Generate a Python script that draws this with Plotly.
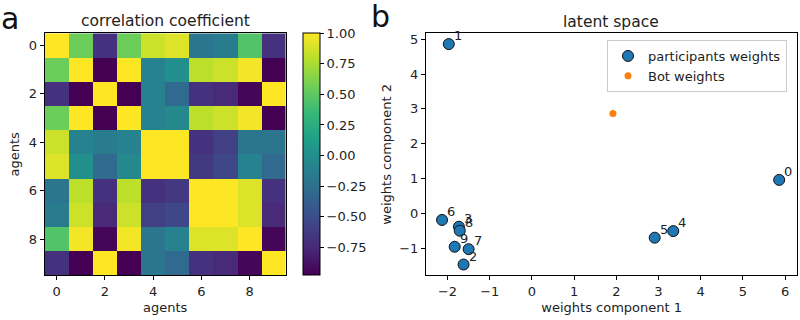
import plotly.graph_objects as go

# ---------- data ----------
agents = list(range(10))
corr = [
    [1.00, 0.55, -0.70, 0.55, 0.85, 0.90, -0.20, -0.15, 0.45, -0.70],
    [0.55, 1.00, -0.98, 1.00, -0.10, 0.00, 0.80, 0.85, 0.97, -0.98],
    [-0.70, -0.98, 1.00, -0.98, -0.10, -0.30, -0.70, -0.75, -0.95, 1.00],
    [0.55, 1.00, -0.98, 1.00, -0.10, -0.05, 0.80, 0.85, 0.97, -0.98],
    [0.85, -0.10, -0.15, -0.10, 1.00, 1.00, -0.70, -0.60, -0.20, -0.20],
    [0.90, 0.00, -0.30, -0.05, 1.00, 1.00, -0.65, -0.55, -0.10, -0.30],
    [-0.20, 0.80, -0.70, 0.80, -0.70, -0.65, 1.00, 1.00, 0.90, -0.70],
    [-0.15, 0.85, -0.75, 0.85, -0.60, -0.55, 1.00, 1.00, 0.90, -0.75],
    [0.45, 0.97, -0.95, 0.97, -0.20, -0.10, 0.90, 0.90, 1.00, -0.95],
    [-0.70, -0.98, 1.00, -0.98, -0.20, -0.30, -0.70, -0.75, -0.95, 1.00],
]
cbar_ticks = [1.00, 0.75, 0.50, 0.25, 0.00, -0.25, -0.50, -0.75]

part_labels = ["0", "1", "2", "3", "4", "5", "6", "7", "8", "9"]
part_x = [5.86, -1.97, -1.62, -1.73, 3.35, 2.91, -2.13, -1.50, -1.71, -1.83]
part_y = [0.96, 4.86, -1.47, -0.385, -0.51, -0.70, -0.19, -1.03, -0.50, -0.96]
bot_x = [1.92]
bot_y = [2.87]

sx_ticks = [-2, -1, 0, 1, 2, 3, 4, 5, 6]
sy_ticks = [-1, 0, 1, 2, 3, 4, 5]

# ---------- helpers ----------
W, H = 800, 320
FONT = "DejaVu Sans"


def fx(px):
    return px / W


def fy(py):
    return 1 - py / H


def mtxt(v, fmt="{:g}"):
    s = fmt.format(v)
    return s.replace("-", "\u2212")


fig = go.Figure()

fig.add_trace(go.Heatmap(
    z=corr, x=agents, y=agents, colorscale="Viridis", zmin=-0.98, zmax=1.0,
    xaxis="x", yaxis="y",
    colorbar=dict(
        x=fx(303.3), xanchor="left", xref="paper", xpad=0, ypad=0,
        y=fy(275.3), yanchor="bottom", yref="paper",
        len=(275.3 - 33.3) / H, lenmode="fraction",
        thickness=17, thicknessmode="pixels",
        outlinewidth=1, outlinecolor="black",
        tickvals=cbar_ticks, ticktext=[mtxt(v, "{:.2f}") for v in cbar_ticks],
        ticks="outside", ticklen=4, tickcolor="black",
        tickfont=dict(family=FONT, size=13, color="#222"),
    ),
))

fig.add_trace(go.Scatter(
    x=part_x, y=part_y, mode="markers", name="participants weights",
    marker=dict(size=11, color="#1f77b4", line=dict(color="#111", width=1)),
    xaxis="x2", yaxis="y2",
))
fig.add_trace(go.Scatter(
    x=bot_x, y=bot_y, mode="markers", name="Bot weights",
    marker=dict(size=7, color="#ff7f0e"),
    xaxis="x2", yaxis="y2",
))

annotations = []
for lab, x, y in zip(part_labels, part_x, part_y):
    annotations.append(dict(
        x=x, y=y, xref="x2", yref="y2", text=lab, showarrow=False,
        xanchor="left", yanchor="bottom", xshift=3, yshift=-1,
        font=dict(family=FONT, size=13, color="#222"),
    ))

# titles and panel letters
annotations += [
    dict(x=fx(165), y=fy(21), xref="paper", yref="paper", text="correlation coefficient",
         showarrow=False, xanchor="center", yanchor="middle",
         font=dict(family=FONT, size=15.5, color="#222")),
    dict(x=fx(611), y=fy(22), xref="paper", yref="paper", text="latent space",
         showarrow=False, xanchor="center", yanchor="middle",
         font=dict(family=FONT, size=15.5, color="#222")),
    dict(x=fx(-1), y=fy(18), xref="paper", yref="paper", text="a",
         showarrow=False, xanchor="left", yanchor="middle",
         font=dict(family=FONT, size=30, color="#111")),
    dict(x=fx(369), y=fy(16), xref="paper", yref="paper", text="b",
         showarrow=False, xanchor="left", yanchor="middle",
         font=dict(family=FONT, size=30, color="#111")),
]

axis_common = dict(
    showline=True, linecolor="black", linewidth=1, mirror=True,
    ticks="outside", ticklen=4, tickcolor="black", showgrid=False, zeroline=False,
    tickfont=dict(family=FONT, size=13, color="#222"), automargin=False,
)
title_font = dict(family=FONT, size=13, color="#222")

fig.update_layout(
    width=W, height=H, margin=dict(l=0, r=0, t=0, b=0, pad=0),
    paper_bgcolor="white", plot_bgcolor="white",
    font=dict(family=FONT, size=13, color="#222"),
    annotations=annotations,
    xaxis=dict(domain=[fx(44.7), fx(285.7)], range=[-0.5, 9.5], anchor="y",
               tickvals=[0, 2, 4, 6, 8],
               title=dict(text="agents", font=title_font, standoff=4), **axis_common),
    yaxis=dict(domain=[fy(275.3), fy(33.3)], range=[9.5, -0.5], anchor="x",
               tickvals=[0, 2, 4, 6, 8],
               title=dict(text="agents", font=title_font, standoff=6), **axis_common),
    xaxis2=dict(domain=[fx(426), fx(797.3)], range=[-2.51, 6.29], anchor="y2",
                tickvals=sx_ticks, ticktext=[mtxt(v) for v in sx_ticks],
                title=dict(text="weights component 1", font=title_font, standoff=4), **axis_common),
    yaxis2=dict(domain=[fy(275.3), fy(33.3)], range=[-1.78, 5.17], anchor="x2",
                tickvals=sy_ticks, ticktext=[mtxt(v) for v in sy_ticks],
                title=dict(text="weights component 2", font=title_font, standoff=4), **axis_common),
    showlegend=True,
    legend=dict(
        x=fx(607), y=fy(40), xanchor="left", yanchor="top", xref="paper", yref="paper",
        bgcolor="white", bordercolor="#ccc", borderwidth=1,
        font=dict(family=FONT, size=13, color="#222"),
        itemsizing="trace",
    ),
)

fig.write_html(
    "out.html",
    config={"displayModeBar": False},
    post_script="document.body.style.margin='0';document.body.style.overflow='hidden';",
)
